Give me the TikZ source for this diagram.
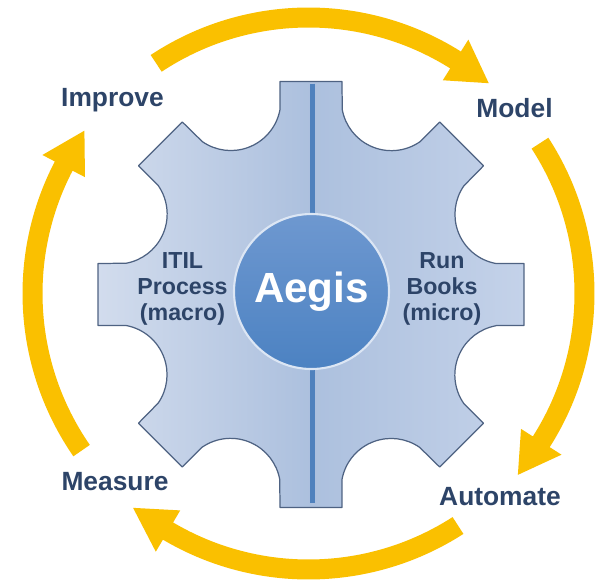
\documentclass[tikz,border=0pt]{standalone}
\usepackage{fontspec}
\setmainfont{Liberation Sans}
\definecolor{ringgold}{RGB}{250,192,0}
\definecolor{labelblue}{RGB}{45,68,104}
\definecolor{gearline}{RGB}{78,98,130}
\definecolor{gearlight}{RGB}{210,220,237}
\definecolor{geardark}{RGB}{172,192,222}
\definecolor{gearmid}{RGB}{196,210,233}
\definecolor{hubtop}{RGB}{110,152,208}
\definecolor{hubbottom}{RGB}{76,130,194}
\definecolor{hubrim}{RGB}{220,230,244}
\definecolor{axleblue}{RGB}{79,129,189}
\tikzset{gear/.style = {draw=gearline, line width=.7pt, line join=round,
                        left color=gearlight, right color=gearmid, middle color=geardark}}
\tikzset{ring/.style = {fill=ringgold}}
\tikzset{axle/.style = {draw=axleblue, line width=3pt}}
\tikzset{hub/.style = {circle, minimum size=3.1cm, draw=hubrim, line width=1.2pt,
                       top color=hubtop, bottom color=hubbottom, text=white,
                       font=\fontsize{24}{28}\selectfont\bfseries}}
\tikzset{phase/.style = {text=labelblue, font=\fontsize{15}{18}\selectfont\bfseries}}
\tikzset{side/.style = {text=labelblue, align=center,
                        font=\fontsize{13.2}{14.8}\selectfont\bfseries}}
\begin{document}
\begin{tikzpicture}
		\useasboundingbox (-6.17,-5.75) rectangle (5.89,5.87);
		% ring arrows: tail / head base / tip
		\foreach \t/\b/\p in {123.5/57.8/49.4, 33/-32.5/-40.9, -57.2/-120.6/-129.3, 214.7/152.5/144}
			\fill[ring] (\t:5.72) arc[start angle=\t, end angle=\b, radius=5.72]
				-- (\b:6) -- (\p:5.54) -- (\b:5.04) -- (\b:5.32)
				arc[start angle=\b, end angle=\t, radius=5.32] -- cycle;
		% gear
		\begin{scope}[shift={(0.05,-0.02)}]
			\path[gear] (-9.51:3.7516)
				\foreach \a in {0,45,...,315} {
					-- (\a-8.28:4.305) -- (\a+8.28:4.305) -- (\a+9.51:3.7516)
					arc[start angle=\a+259.67, end angle=\a+145.33, radius=1]
				} -- cycle;
		\end{scope}
		\draw[axle] (0.08,4.2) -- (0.08,-4.18);
		\node[hub] (aegis) at (0.06,0.04) {Aegis};
		\node[side] (itil) at (-2.52,0.1) {ITIL\\Process\\(macro)};
		\node[side] (runbooks) at (2.67,0.1) {Run\\Books\\(micro)};
		\node[phase] (improve) at (-3.92,3.87) {Improve};
		\node[phase] (model) at (4.12,3.71) {Model};
		\node[phase] (measure) at (-3.87,-3.77) {Measure};
		\node[phase] (automate) at (3.83,-4.07) {Automate};
	\end{tikzpicture}
\end{document}
